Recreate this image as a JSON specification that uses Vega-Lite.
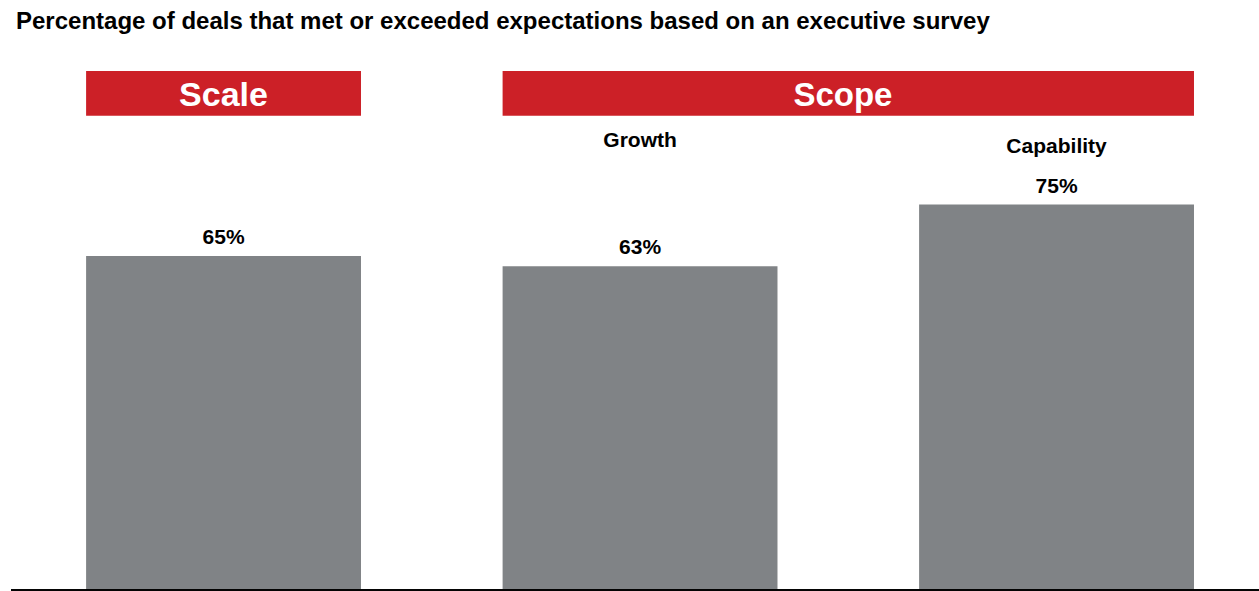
{
  "$schema": "https://vega.github.io/schema/vega-lite/v6.json",
  "width": 1248,
  "height": 519,
  "autosize": {"type": "none"},
  "padding": {"left": 11, "top": 71, "right": 0, "bottom": 1},
  "background": "#ffffff",
  "title": {
    "text": "Percentage of deals that met or exceeded expectations based on an executive survey",
    "anchor": "start",
    "frame": "group",
    "font": "Liberation Sans",
    "fontSize": 24,
    "fontWeight": "bold",
    "color": "#000000",
    "baseline": "alphabetic",
    "offset": 18,
    "dx": 5
  },
  "config": {"view": {"stroke": null}, "font": "Liberation Sans"},
  "datasets": {
    "bars": [
      {"category": "Scale", "group": "Scale", "sub": "", "pct": 0.65},
      {"category": "Growth", "group": "Scope", "sub": "Growth", "pct": 0.63},
      {"category": "Capability", "group": "Scope", "sub": "Capability", "pct": 0.75}
    ],
    "headers": [
      {"group": "Scale", "from": "Scale", "to": "Scale"},
      {"group": "Scope", "from": "Growth", "to": "Capability"}
    ]
  },
  "layer": [
    {
      "data": {"name": "bars"},
      "mark": {"type": "bar", "color": "#808386"},
      "encoding": {
        "x": {"field": "category", "type": "nominal", "scale": {"domain": ["Scale", "Growth", "Capability"], "paddingInner": 0.34, "paddingOuter": 0.1682, "align": 0.536}, "axis": null},
        "y": {"field": "pct", "type": "quantitative", "scale": {"domain": [0, 1.01], "nice": false, "zero": true}, "axis": null}
      }
    },
    {
      "data": {"name": "bars"},
      "mark": {"type": "text", "font": "Liberation Sans", "fontSize": 21, "fontWeight": "bold", "color": "#000000", "baseline": "alphabetic", "dy": -12},
      "encoding": {
        "x": {"field": "category", "type": "nominal", "axis": null},
        "y": {"field": "pct", "type": "quantitative", "axis": null},
        "text": {"field": "pct", "type": "quantitative", "format": ".0%"}
      }
    },
    {
      "data": {"name": "bars"},
      "transform": [{"filter": "datum.sub == 'Growth'"}],
      "mark": {"type": "text", "font": "Liberation Sans", "fontSize": 21, "fontWeight": "bold", "color": "#000000", "baseline": "alphabetic"},
      "encoding": {
        "x": {"field": "category", "type": "nominal", "axis": null},
        "y": {"datum": 0.8615, "type": "quantitative", "axis": null},
        "text": {"field": "sub", "type": "nominal"}
      }
    },
    {
      "data": {"name": "bars"},
      "transform": [{"filter": "datum.sub == 'Capability'"}],
      "mark": {"type": "text", "font": "Liberation Sans", "fontSize": 21, "fontWeight": "bold", "color": "#000000", "baseline": "alphabetic"},
      "encoding": {
        "x": {"field": "category", "type": "nominal", "axis": null},
        "y": {"datum": 0.851, "type": "quantitative", "axis": null},
        "text": {"field": "sub", "type": "nominal"}
      }
    },
    {
      "data": {"name": "headers"},
      "mark": {"type": "bar", "color": "#CC2027"},
      "encoding": {
        "x": {"field": "from", "type": "nominal", "bandPosition": 0, "axis": null},
        "x2": {"field": "to", "bandPosition": 1},
        "y": {"datum": 1.01, "type": "quantitative", "axis": null},
        "y2": {"datum": 0.923}
      }
    },
    {
      "data": {"name": "headers"},
      "transform": [{"filter": "datum.group == 'Scale'"}],
      "mark": {"type": "text", "font": "Liberation Sans", "fontSize": 34, "fontWeight": "bold", "color": "#ffffff", "baseline": "alphabetic"},
      "encoding": {
        "x": {"field": "from", "type": "nominal", "bandPosition": 0.5, "axis": null},
        "y": {"datum": 0.9425, "type": "quantitative", "axis": null},
        "text": {"field": "group", "type": "nominal"}
      }
    },
    {
      "data": {"name": "headers"},
      "transform": [{"filter": "datum.group == 'Scope'"}],
      "mark": {"type": "text", "font": "Liberation Sans", "fontSize": 33, "fontWeight": "bold", "color": "#ffffff", "baseline": "alphabetic"},
      "encoding": {
        "x": {"field": "from", "type": "nominal", "bandPosition": 1.238, "axis": null},
        "y": {"datum": 0.9425, "type": "quantitative", "axis": null},
        "text": {"field": "group", "type": "nominal"}
      }
    },
    {
      "data": {"name": "bars"},
      "mark": {"type": "rule", "color": "#000000", "strokeWidth": 1.6},
      "encoding": {
        "y": {"datum": 0, "type": "quantitative", "axis": null}
      }
    }
  ]
}
